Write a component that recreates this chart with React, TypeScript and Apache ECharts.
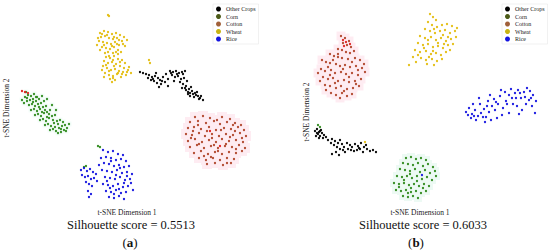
import React, { useEffect, useRef } from "react";
import * as echarts from "echarts";

// ---- Panel (a) points, [t-SNE dim 1, t-SNE dim 2] ----
const aWheat: number[][] = [
  [100,33],[104,31],[108,32],[112,34],[116,33],[120,35],[124,37],[101,37],[105,36],[109,38],[113,39],[117,38],[122,41],[99,41],[103,42],[107,43],[111,44],[115,42],[119,45],[125,46],[102,47],[106,48],[110,49],[114,47],[118,50],[108,52],[113,53],[121,52],[97,45],[127,40],
  [106,57],[110,58],[114,56],[118,59],[122,60],[104,61],[108,63],[112,62],[116,64],[120,66],[125,63],[129,67],[103,66],[107,68],[111,70],[115,69],[119,71],[123,72],[128,70],[105,73],[109,75],[113,76],[117,74],[121,77],[126,75],[110,79],[115,80],[131,73],[102,70],[118,54],
  [102,34],[107,35],[114,37],[119,40],[98,38],[104,45],[112,46],[117,44],[123,44],[100,50],[105,53],[116,52],[109,56],[113,60],[120,62],[106,65],[114,66],[124,68],[109,71],[118,73],[104,77],[113,78],[122,74],[127,72],[112,82],
  [108,15],[109,16],[149,60],[150,63]
];
const aOther: number[][] = [
  [140,72],[143,73],[146,74],[149,75],[152,77],[148,78],[151,80],[155,76],[158,78],[154,81],[157,83],[160,80],[163,77],[161,84],[165,82],[168,79],[166,74],[170,71],[173,72],[176,71],[179,73],[182,72],[185,71],[172,75],[175,77],[178,76],[181,79],[184,78],[180,82],[183,84],[186,86],[182,88],[186,90],[189,89],[192,91],[190,93],[193,94],[196,95],[194,97],[198,96],[200,98],[203,100],[188,94],[191,87],[197,92],[168,86],[159,87],[156,73],[174,81],[187,81],
  [171,73],[177,74],[183,74],[153,79],[162,81],[188,92],[195,93],[199,99],[201,96],[190,96],[185,88]
];
const aCorn: number[][] = [
  [22,100],[25,97],[28,95],[31,96],[34,94],[37,97],[24,103],[27,101],[30,100],[33,99],[36,101],[39,99],[29,105],[32,104],[35,106],[38,104],[41,103],[44,101],[31,110],[34,109],[37,111],[40,109],[43,107],[46,106],[35,115],[38,114],[41,116],[44,113],[47,112],[50,110],[40,120],[43,119],[46,121],[49,118],[52,116],[55,115],[45,125],[48,124],[51,126],[54,123],[57,121],[60,120],[50,130],[53,129],[56,131],[59,128],[62,126],[65,125],[58,133],[61,132],[64,130],[67,128],[42,96],[47,99],[26,92],[63,122],[69,124],[52,105],[56,110],
  [27,98],[33,102],[39,107],[45,110],[49,114],[53,120],[58,124],[61,129],[66,131],[36,97],[42,112],[47,117],[55,127],
  [98,146],[100,147],[84,167],[86,166]
];
const aCotton: number[][] = [
  [195,117],[203,116],[210,118],[222,117],[230,119],
  [190,122],[198,121],[206,123],[214,121],[220,124],[227,122],[235,123],[241,125],
  [188,128],[194,127],[201,129],[209,127],[216,130],[224,128],[231,129],[238,127],[244,130],
  [186,134],[192,135],[199,133],[205,136],[212,134],[219,136],[226,134],[233,135],[240,133],[246,136],
  [188,141],[195,139],[202,142],[209,140],[216,142],[222,139],[229,141],[236,140],[243,142],
  [190,147],[197,145],[204,148],[211,146],[218,148],[225,146],[232,147],[239,145],[245,148],
  [194,153],[201,151],[208,154],[215,152],[222,154],[229,152],[236,153],[242,151],
  [199,158],[206,160],[213,158],[220,160],[227,158],[234,159],
  [207,164],[215,163],[223,165],[231,163],
  [198,125],[212,138],[226,144],[204,156],[235,131],[218,151],
  [193,131],[207,131],[230,137],[242,138],[199,144],[214,145],[236,149],[211,157],[227,163],[191,138],[221,130],[217,120],[233,125]
];
const aRice: number[][] = [
  [103,150],[108,152],[113,151],[118,154],[123,155],[106,157],[111,158],[116,160],[121,159],[126,161],[104,163],[109,164],[114,166],[119,165],[124,167],[129,166],[102,170],[107,171],[112,172],[117,170],[122,173],[127,172],[132,174],[105,177],[110,178],[115,179],[120,177],[125,180],[130,179],[103,184],[108,185],[113,186],[118,184],[123,187],[128,186],[106,191],[111,192],[116,190],[121,193],[126,192],[109,197],[114,198],[119,196],[124,199],[101,158],[99,165],[131,183],[133,190],
  [81,170],[84,168],[87,171],[90,169],[93,172],[96,174],[82,175],[85,177],[88,176],[91,179],[94,178],[97,181],[86,182],[89,184],[92,186],[88,191],[91,194],[89,197],
  [111,161],[120,168],[116,175],[124,183],[110,188],[119,189],[127,176],[107,181],[114,194]
];
const aMixedRed: number[][] = [[22,91],[25,92],[28,93],[210,131],[220,146]];

// ---- Panel (b) points ----
const bCotton: number[][] = [
  [341,36],[345,38],[349,41],[343,43],[347,45],[351,47],[338,49],[342,50],[346,52],[350,53],[354,51],[330,54],[334,56],[338,57],[342,58],[348,59],[355,58],[360,60],[322,60],[326,62],[330,63],[336,64],[340,66],[345,65],[350,67],[356,66],[362,68],[321,69],[325,71],[331,70],[335,73],[341,72],[346,74],[352,73],[358,75],[365,72],[323,77],[328,79],[333,78],[338,81],[344,80],[349,82],[355,81],[361,79],[325,85],[330,86],[336,88],[341,86],[347,89],[353,88],[359,86],[331,93],[336,95],[342,93],[347,96],[352,94],[340,98],[326,90],[364,64],[318,73],
  [333,60],[352,62],[328,67],[343,69],[358,70],[330,75],[349,77],[335,83],[356,84],[344,91],[338,54],[320,81]
];
const bWheat: number[][] = [
  [430,14],[433,17],[436,20],[428,22],[432,25],[437,27],[442,25],[447,24],[452,26],[425,29],[430,31],[435,33],[440,31],[445,30],[450,33],[455,31],[420,36],[425,38],[431,37],[436,40],[441,38],[446,41],[451,39],[456,37],[418,43],[423,45],[428,44],[433,47],[438,46],[443,48],[448,45],[453,44],[415,50],[420,52],[426,51],[431,54],[436,53],[441,55],[446,52],[421,58],[426,60],[432,59],[437,61],[442,59],[413,57],[409,65],[416,62],[427,64],[434,65],[450,50],[457,28],
  [434,29],[443,35],[428,40],[448,37],[438,43],[424,48],[444,44],[433,51],[418,55],[429,57],
  [365,142]
];
const bRice: number[][] = [
  [466,112],[469,108],[472,114],[475,110],[478,116],[471,118],[476,120],[481,113],[484,109],[480,104],[486,117],[489,112],[492,106],[488,101],[495,110],[498,104],[494,99],[500,96],[503,108],[506,101],[509,95],[505,92],[512,98],[515,93],[518,90],[513,104],[517,106],[521,98],[524,92],[527,88],[530,91],[533,95],[529,100],[526,104],[532,106],[522,110],[509,113],[497,118],[502,115],[485,122],[491,120],[479,98],[490,95],[501,90],[511,89],[535,113],[536,101],[519,114],[473,104],
  [468,115],[474,116],[483,117],[487,106],[496,102],[507,104],[516,98],[525,97],[531,98],[520,93],
  [422,175]
];
const bCorn: number[][] = [
  [406,158],[411,157],[416,159],[421,158],[426,160],[403,163],[408,164],[413,165],[418,163],[423,166],[428,164],[433,167],[400,169],[405,170],[410,171],[415,169],[420,172],[425,170],[430,173],[435,171],[397,176],[402,177],[407,176],[412,178],[417,176],[422,179],[427,177],[432,180],[394,183],[399,184],[404,183],[409,185],[414,184],[419,186],[424,184],[429,186],[396,190],[401,191],[406,190],[411,192],[416,191],[421,193],[426,191],[403,196],[408,197],[413,196],[418,198],[436,176],
  [410,174],[404,180],[417,181],[411,188],[399,187],[423,188],[408,193],
  [318,125],[320,127]
];
const bOther: number[][] = [
  [315,131],[317,129],[319,132],[321,130],[318,134],[320,136],[322,133],[324,135],[316,136],[323,138],[326,137],[328,140],[332,139],[335,141],[331,143],[334,145],[338,143],[340,140],[342,144],[337,147],[340,149],[344,147],[347,143],[350,145],[348,149],[352,147],[355,144],[358,146],[361,143],[357,150],[360,149],[364,147],[367,149],[370,151],[373,150],[376,152],[363,152],[354,151],[345,152],[336,152],[332,154],[339,155],
  [317,133],[320,131],[319,138],[343,150],[351,150],[359,148],[366,145]
];
const bMixedRed: number[][] = [[343,40],[346,42],[350,44],[344,46]];

const classNames = ["Other Crops", "Corn", "Cotton", "Wheat", "Rice"];
const legendColors = ["#000000", "#4b5a17", "#a0603a", "#c8b414", "#1414e0"];
const pointColors = ["#000000", "#2f8a1c", "#b0452a", "#e4be10", "#1414e0"];

const texts = {
  xTitle: "t-SNE Dimension 1",
  yTitle: "t-SNE Dimension 2",
  scoreA: "Silhouette score = 0.5513",
  scoreB: "Silhouette score = 0.6033",
};

const SERIF = "'Liberation Serif', 'DejaVu Serif', serif";

export default function App() {
  const ref = useRef<HTMLDivElement>(null);
  useEffect(() => {
    if (!ref.current) return;
    const chart = echarts.init(ref.current, undefined, { renderer: "svg" });
    const pt = (name: string, data: number[][], color: string, idx: number, size = 2.3) => ({
      type: "scatter", name, data, xAxisIndex: idx, yAxisIndex: idx,
      symbolSize: size, itemStyle: { color, opacity: 1 }, silent: true, z: 3,
    });
    const halo = (data: number[][], color: string, idx: number, size: number) => ({
      type: "scatter", name: "halo", data, xAxisIndex: idx, yAxisIndex: idx,
      symbolSize: size, symbol: "rect", itemStyle: { color, opacity: 1 }, silent: true, z: 1,
    });
    const legendBase = {
      orient: "vertical", top: 4, itemWidth: 5, itemHeight: 5, itemGap: 1.5, icon: "circle",
      padding: [2, 3, 2, 3], borderColor: "#e8e8e8", borderWidth: 0.6, backgroundColor: "#ffffff",
      textStyle: { fontSize: 6, fontFamily: SERIF, color: "#222", lineHeight: 6 },
      data: classNames.map((n, i) => ({ name: n, itemStyle: { color: legendColors[i] } })),
      selectedMode: false,
    };
    chart.setOption({
      animation: false,
      grid: [
        { left: 0, top: 0, width: 275, height: 251 },
        { left: 275, top: 0, width: 275, height: 251 },
      ],
      xAxis: [
        { type: "value", min: 0, max: 275, show: false, gridIndex: 0 },
        { type: "value", min: 275, max: 550, show: false, gridIndex: 1 },
      ],
      yAxis: [
        { type: "value", min: 0, max: 251, inverse: true, show: false, gridIndex: 0 },
        { type: "value", min: 0, max: 251, inverse: true, show: false, gridIndex: 1 },
      ],
      legend: [
        { ...legendBase, left: 213 },
        { ...legendBase, left: 502 },
      ],
      series: [
        halo(aCotton, "#feecf2", 0, 10),
        halo(aCorn.slice(0, 72), "#f3fcf9", 0, 5),
        halo(bCotton, "#feecf2", 1, 9),
        halo(bCorn.slice(0, 55), "#edfaf4", 1, 8),
        pt(classNames[0], aOther, pointColors[0], 0),
        pt(classNames[1], aCorn, pointColors[1], 0),
        pt(classNames[2], aCotton, pointColors[2], 0),
        pt(classNames[3], aWheat, pointColors[3], 0),
        pt(classNames[4], aRice, pointColors[4], 0),
        pt("mixed", aMixedRed, "#e02020", 0),
        pt(classNames[0], bOther, pointColors[0], 1),
        pt(classNames[1], bCorn, pointColors[1], 1),
        pt(classNames[2], bCotton, pointColors[2], 1),
        pt(classNames[3], bWheat, pointColors[3], 1),
        pt(classNames[4], bRice, pointColors[4], 1),
        pt("mixed", bMixedRed, "#e02020", 1),
      ],
      graphic: [
        { type: "text", x: 127, y: 212, style: { text: texts.xTitle, font: `7.5px ${SERIF}`, fill: "#222", align: "center", verticalAlign: "middle" } },
        { type: "text", x: 420, y: 212, style: { text: texts.xTitle, font: `7.5px ${SERIF}`, fill: "#222", align: "center", verticalAlign: "middle" } },
        { type: "text", x: 6, y: 108, rotation: Math.PI / 2, style: { text: texts.yTitle, font: `7.5px ${SERIF}`, fill: "#222", align: "center", verticalAlign: "middle" } },
        { type: "text", x: 306, y: 112, rotation: Math.PI / 2, style: { text: texts.yTitle, font: `7.5px ${SERIF}`, fill: "#222", align: "center", verticalAlign: "middle" } },
        { type: "text", x: 131, y: 225, style: { text: texts.scoreA, font: `12.5px ${SERIF}`, fill: "#111", align: "center", verticalAlign: "middle" } },
        { type: "text", x: 423, y: 225, style: { text: texts.scoreB, font: `12.5px ${SERIF}`, fill: "#111", align: "center", verticalAlign: "middle" } },
        { type: "text", x: 130, y: 242, style: { text: "({b|a})", font: `13px ${SERIF}`, fill: "#111", align: "center", verticalAlign: "middle", rich: { b: { fontWeight: "bold", fontSize: 13, fontFamily: SERIF } } } },
        { type: "text", x: 416, y: 242, style: { text: "({b|b})", font: `13px ${SERIF}`, fill: "#111", align: "center", verticalAlign: "middle", rich: { b: { fontWeight: "bold", fontSize: 13, fontFamily: SERIF } } } },
      ],
    });
    return () => chart.dispose();
  }, []);
  return <div ref={ref} style={{ position: "fixed", left: 0, top: 0, width: 550, height: 251, background: "#fff" }} />;
}
